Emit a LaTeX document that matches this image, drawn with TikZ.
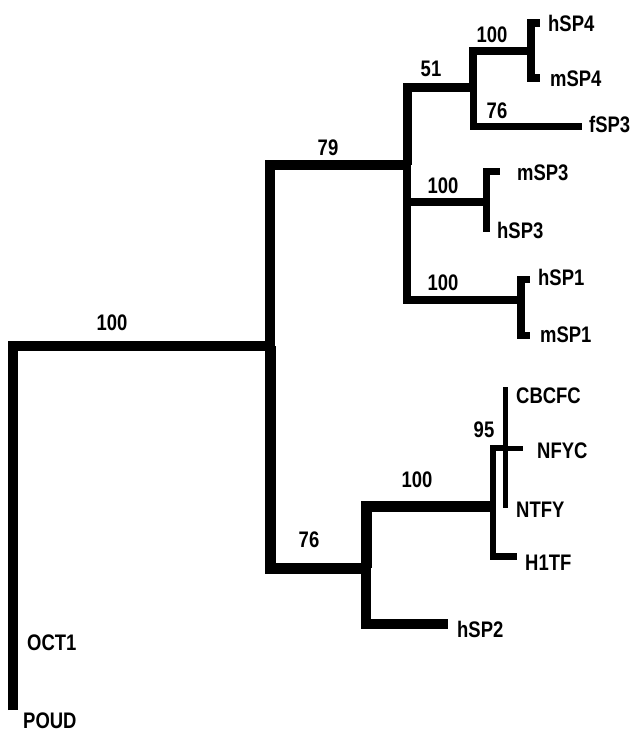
\documentclass[tikz,border=0pt]{standalone}
\usepackage{fontspec}
\setmainfont{Liberation Sans}[FakeStretch=0.82]
\begin{document}
\begin{tikzpicture}[x=1pt,y=-1pt,
  br/.style={draw=black,line cap=butt,line join=miter,line width=#1},
  br/.default=8,
  leaf/.style={anchor=base west,inner sep=0pt,font=\fontsize{22.5}{22.5}\selectfont\bfseries},
  bs/.style={anchor=base,inner sep=0pt,font=\fontsize{22.5}{22.5}\selectfont\bfseries}]
\useasboundingbox (0,0) rectangle (633,733);
% internal nodes
\coordinate (r0) at (13,710);
\coordinate (n1) at (270,346);
\coordinate (n2) at (407,165);
\coordinate (n3) at (473,88);
\coordinate (n4) at (531,51);
\coordinate (n5) at (486,202);
\coordinate (n6) at (521,300);
\coordinate (n7) at (366,568);
\coordinate (n8) at (493,506);
\coordinate (n9) at (505,448);
% branch ends
\coordinate (e4a) at (540,23.5);
\coordinate (e4b) at (540,78.5);
\coordinate (ef3) at (582,127);
\coordinate (e5a) at (500,171.5);
\coordinate (e5b) at (486,232);
\coordinate (e6a) at (530,279.5);
\coordinate (e6b) at (530,335.5);
\coordinate (e9a) at (505,387);
\coordinate (e9b) at (505,508);
\coordinate (e9c) at (523,448);
\coordinate (eh1) at (517,556.5);
\coordinate (eh2) at (448,624);
% branches
\draw[br=10.5] (r0) |- (n1);
\draw[br=10] (n1) |- (n2);
\draw[br=11] (n1) |- (n7);
\draw[br=9] (n2) |- (n3);
\draw[br=8] (n2) |- (n6);
\draw[br=7.5] (n2) |- (n5);
\draw[br=7.5] (n3) |- (n4);
\draw[br=7] (n3) |- (ef3);
\draw[br=8] (n4) |- (e4a);
\draw[br=8] (n4) |- (e4b);
\draw[br=7] (n5) |- (e5a);
\draw[br=7] (n5) -- (e5b);
\draw[br=7.5] (n6) |- (e6a);
\draw[br=7.5] (n6) |- (e6b);
\draw[br=11] (n7) |- (n8);
\draw[br=10] (n7) |- (eh2);
\draw[br=6.5] (n8) |- (n9);
\draw[br=6.5] (n8) |- (eh1);
\draw[br=5] (e9a) -- (e9b);
\draw[br=5] (n9) -- (e9c);
% leaf labels
\node[leaf] (hSP4) at (548,32) {hSP4};
\node[leaf] (mSP4) at (550,87) {mSP4};
\node[leaf] (fSP3) at (589,132) {fSP3};
\node[leaf] (mSP3) at (517,180) {mSP3};
\node[leaf] (hSP3) at (497,238) {hSP3};
\node[leaf] (hSP1) at (538,285) {hSP1};
\node[leaf] (mSP1) at (540,342) {mSP1};
\node[leaf] (CBCFC) at (516,403) {CBCFC};
\node[leaf] (NFYC) at (537,458) {NFYC};
\node[leaf] (NTFY) at (516,517) {NTFY};
\node[leaf] (H1TF) at (525,570) {H1TF};
\node[leaf] (hSP2) at (457,637) {hSP2};
\node[leaf] (OCT1) at (27,650) {OCT1};
\node[leaf] (POUD) at (23,728) {POUD};
% bootstrap values
\node[bs] (b1) at (112,330) {100};
\node[bs] (b2) at (328,155) {79};
\node[bs] (b3) at (431,77) {51};
\node[bs] (b4) at (492,43) {100};
\node[bs] (b5) at (497,118) {76};
\node[bs] (b6) at (443,193) {100};
\node[bs] (b7) at (443,290) {100};
\node[bs] (b8) at (309,547) {76};
\node[bs] (b9) at (417,487) {100};
\node[bs] (b10) at (484,437) {95};
\end{tikzpicture}
\end{document}
